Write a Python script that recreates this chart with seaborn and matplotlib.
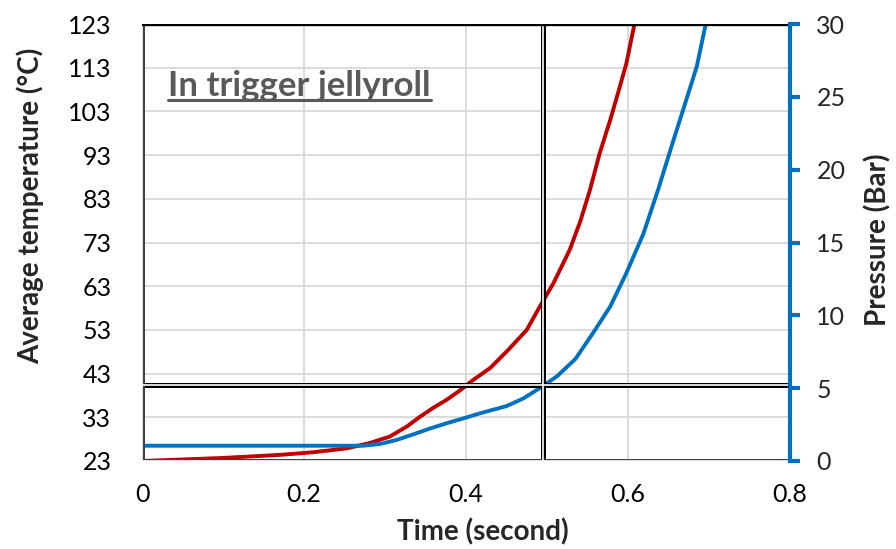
import numpy as np
import pandas as pd
import matplotlib
matplotlib.use("Agg")
import matplotlib.pyplot as plt
import seaborn as sns
from matplotlib.lines import Line2D

# Temperature curve (left axis)
time_temp = [0, 0.1, 0.17, 0.211, 0.253, 0.281, 0.306, 0.327, 0.343,
             0.359, 0.376, 0.393, 0.407, 0.43, 0.452, 0.475, 0.491,
             0.508, 0.528, 0.541, 0.553, 0.565, 0.578, 0.59, 0.598, 0.608]
temperature = [23, 23.7, 24.4, 25.0, 25.9, 27.1, 28.6, 30.9, 33.1,
               35.1, 37.0, 39.2, 41.3, 44.3, 48.4, 53.0, 58.3,
               63.7, 71.3, 77.8, 85.0, 93.4, 101.0, 108.7, 114.0, 123]

# Pressure curve (right axis)
time_pres = [0, 0.1, 0.2, 0.273, 0.294, 0.314, 0.335, 0.356, 0.376,
             0.397, 0.417, 0.450, 0.471, 0.491, 0.512, 0.535, 0.557,
             0.578, 0.598, 0.619, 0.637, 0.656, 0.672, 0.685, 0.696]
pressure = [1.05, 1.05, 1.05, 1.05, 1.17, 1.44, 1.83, 2.24, 2.59,
            2.93, 3.27, 3.77, 4.3, 5.0, 5.8, 7.0, 8.8,
            10.6, 12.9, 15.6, 18.6, 22.0, 24.8, 27.1, 30.0]

temp_ticks = [23, 33, 43, 53, 63, 73, 83, 93, 103, 113, 123]
pres_ticks = [0, 5, 10, 15, 20, 25, 30]
time_ticks = [0, 0.2, 0.4, 0.6, 0.8]
time_labels = ["0", "0.2", "0.4", "0.6", "0.8"]

# marker lines (time, temperature)
mark_time = 0.495
mark_temp = 40.5

sns.set_style("white")
plt.rcParams['font.family'] = ['Lato', 'DejaVu Sans']

red = "#C00000"
blue = "#0070C0"

temp_df = pd.DataFrame({"time": time_temp, "temp": temperature})
pres_df = pd.DataFrame({"time": time_pres, "pressure": pressure})

fig = plt.figure(figsize=(8.96, 5.49), dpi=100)
ax = fig.add_axes([142 / 896, 1 - 461 / 549, 648 / 896, 437 / 549])
ax2 = ax.twinx()

ax.set_xlim(0, 0.8)
ax.set_ylim(23, 123)
ax2.set_ylim(0, 30)

# grid
ax.set_xticks(time_ticks)
ax.set_yticks(temp_ticks)
ax.grid(True, color="#d9d9d9", linewidth=1.3)
ax.set_axisbelow(True)

sns.lineplot(data=temp_df, x="time", y="temp", ax=ax, color=red,
             linewidth=2.8, zorder=3)
sns.lineplot(data=pres_df, x="time", y="pressure", ax=ax2, color=blue,
             linewidth=2.8, zorder=3)


def double_line(axis, value, vertical, color="black"):
    if vertical:
        axis.axvline(value, color=color, linewidth=3.6, zorder=4)
        axis.axvline(value, color="white", linewidth=1.2, zorder=5)
    else:
        axis.axhline(value, color=color, linewidth=3.6, zorder=4)
        axis.axhline(value, color="white", linewidth=1.2, zorder=5)


# temperature marker drawn on ax2, so convert to the pressure scale
double_line(ax2, mark_time, True)
double_line(ax2, (mark_temp - 23) * 30 / 100, False)
double_line(ax2, 0, True, color="#404040")
double_line(ax2, 0, False, color="#404040")
ax2.axhline(30, color="black", linewidth=2.4, zorder=6)

for a in (ax, ax2):
    for s in a.spines.values():
        s.set_visible(False)
ax2.spines["right"].set_visible(True)
ax2.spines["right"].set_color(blue)
ax2.spines["right"].set_linewidth(3)
ax2.spines["right"].set_zorder(7)

ax.tick_params(axis="both", length=0, labelsize=18, colors="black")
ax.tick_params(axis="y", pad=22)
ax.tick_params(axis="x", pad=16)
ax.set_xticklabels(time_labels)
ax2.set_yticks(pres_ticks)
ax2.tick_params(axis="y", length=7, width=3, color=blue, labelsize=18,
                pad=12, direction="out")

ax.set_xlabel("Time (second)", fontsize=20, fontweight="bold", va="center")
ax.xaxis.set_label_coords(0.526, -0.162)
ax.set_ylabel("Average temperature (\u00b0C)", fontsize=20,
              fontweight="bold", va="center")
ax.yaxis.set_label_coords(-0.173, 0.584)
ax2.set_ylabel("Pressure (Bar)", fontsize=20, fontweight="bold",
               va="center")
ax2.yaxis.set_label_coords(1.136, 0.506)

title = ax.text(168 / 896, 1 - 86 / 549, "In trigger jellyroll",
                transform=fig.transFigure, fontsize=25, fontweight="bold",
                color="#595959", va="center", ha="left", zorder=8)

# underline under the title
fig.canvas.draw()
bb = title.get_window_extent().transformed(fig.transFigure.inverted())
fig.add_artist(Line2D([bb.x0, bb.x1], [bb.y0 + 0.004, bb.y0 + 0.004],
                      transform=fig.transFigure, color="#595959",
                      linewidth=2.2))

fig.savefig("out.png", dpi=100)
